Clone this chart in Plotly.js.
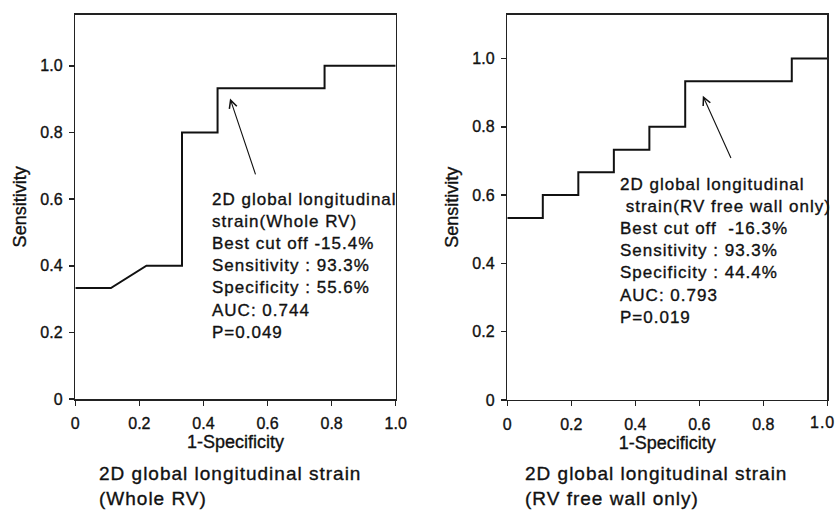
<!DOCTYPE html>
<html>
<head>
<meta charset="utf-8">
<script src="https://cdn.plot.ly/plotly-3.0.1.min.js"></script>
<style>
  html, body { margin: 0; padding: 0; background: #fff; }
  #chart { width: 836px; height: 513px; }
  .annotation-text { letter-spacing: 1px; }
  #chart text { stroke: #111; stroke-width: 0.35px; }
</style>
</head>
<body>
<div id="chart"></div>
<script>
// ROC curve, 2D global longitudinal strain (Whole RV)
const fprWhole = [0, 0.111, 0.222, 0.333, 0.333, 0.444, 0.444, 0.778, 0.778, 1.0];
const tprWhole = [0.333, 0.333, 0.4, 0.4, 0.8, 0.8, 0.933, 0.933, 1.0, 1.0];
// ROC curve, 2D global longitudinal strain (RV free wall only)
const fprFree = [0, 0.111, 0.111, 0.222, 0.222, 0.333, 0.333, 0.444, 0.444, 0.556, 0.556, 0.889, 0.889, 1.0];
const tprFree = [0.533, 0.533, 0.6, 0.6, 0.667, 0.667, 0.733, 0.733, 0.8, 0.8, 0.933, 0.933, 1.0, 1.0];

const tickVals = [0, 0.2, 0.4, 0.6, 0.8, 1.0];
const tickText = ['0', '0.2', '0.4', '0.6', '0.8', '1.0'];

const textWhole = [
  '2D global longitudinal',
  'strain(Whole RV)',
  'Best cut off -15.4%',
  'Sensitivity : 93.3%',
  'Specificity : 55.6%',
  'AUC: 0.744',
  'P=0.049'
];
const textFree = [
  '2D global longitudinal',
  '\u00a0strain(RV free wall only)',
  'Best cut off \u00a0-16.3%',
  'Sensitivity : 93.3%',
  'Specificity : 44.4%',
  'AUC: 0.793',
  'P=0.019'
];
const captionWhole = ['2D global longitudinal strain', '(Whole RV)'];
const captionFree = ['2D global longitudinal strain', '(RV free wall only)'];

// arrow tips and tails in data units [tipX, tipY, tailX, tailY]
const arrowWhole = [0.483, 0.902, 0.564, 0.670];
const arrowFree = [0.611, 0.891, 0.701, 0.704];

const FONT = 'Liberation Sans, Arial, sans-serif';
const INK = '#111';

const lineStyle = {color: '#111', width: 2};

const traces = [
  {x: fprWhole, y: tprWhole, xaxis: 'x', yaxis: 'y', mode: 'lines', line: lineStyle, hoverinfo: 'skip'},
  {x: fprFree, y: tprFree, xaxis: 'x2', yaxis: 'y2', mode: 'lines', line: lineStyle, hoverinfo: 'skip'}
];

// the right panel's last x label sits on the page edge; it is drawn right-aligned to stay whole
const lastIdx = tickText.length - 1;
const tickTextRight = tickText.map((t, i) => (i === lastIdx ? '' : t));

function xAx(domain, anchor, labels) {
  return {
    domain: domain, anchor: anchor, range: [0, 1],
    showline: true, mirror: true, linecolor: '#222', linewidth: 1.5,
    showgrid: false, zeroline: false,
    ticks: 'outside', ticklen: 5, tickwidth: 1.5, tickcolor: '#222',
    tickvals: tickVals, ticktext: labels,
    ticklabelstandoff: 4, ticklabeloverflow: 'allow',
    tickfont: {family: FONT, size: 16, color: INK},
    title: {text: '1-Specificity', font: {family: FONT, size: 18, color: INK}, standoff: 4},
    automargin: false, fixedrange: true
  };
}
function yAx(domain, anchor, top) {
  return {
    domain: domain, anchor: anchor, range: [0, top],
    showline: true, mirror: true, linecolor: '#222', linewidth: 1.5,
    showgrid: false, zeroline: false,
    ticks: 'outside', ticklen: 5, tickwidth: 1.5, tickcolor: '#222',
    tickvals: tickVals, ticktext: tickText,
    ticklabelstandoff: 3, ticklabeloverflow: 'allow',
    tickfont: {family: FONT, size: 16, color: INK},
    title: {text: 'Sensitivity', font: {family: FONT, size: 18, color: INK}, standoff: 9},
    automargin: false, fixedrange: true
  };
}

function arrowAnn(a, xr, yr) {
  return {
    xref: xr, yref: yr, axref: xr, ayref: yr,
    x: a[0], y: a[1], ax: a[2], ay: a[3],
    text: '', showarrow: true, arrowhead: 5, arrowsize: 1.4, arrowwidth: 1.1,
    arrowcolor: INK, standoff: 0, startstandoff: 0
  };
}

const annotations = [
  arrowAnn(arrowWhole, 'x', 'y'),
  arrowAnn(arrowFree, 'x2', 'y2'),
  {xref: 'x', yref: 'y', x: 0.420, y: 0.633, xanchor: 'left', yanchor: 'top', align: 'left',
   text: textWhole.join('<br>'), showarrow: false, font: {family: FONT, size: 17, color: INK}},
  {xref: 'x2', yref: 'y2', x: 0.347, y: 0.666, xanchor: 'left', yanchor: 'top', align: 'left',
   text: textFree.join('<br>'), showarrow: false, font: {family: FONT, size: 17, color: INK}},
  {xref: 'paper', yref: 'paper', x: 96.7 / 836, y: 0.101, xanchor: 'left', yanchor: 'top', align: 'left',
   text: captionWhole.join('<br>'), showarrow: false, font: {family: FONT, size: 19, color: INK}},
  {xref: 'paper', yref: 'paper', x: 522.7 / 836, y: 0.101, xanchor: 'left', yanchor: 'top', align: 'left',
   text: captionFree.join('<br>'), showarrow: false, font: {family: FONT, size: 19, color: INK}},
  {xref: 'paper', yref: 'y2', x: 1, y: 0, xanchor: 'right', yanchor: 'top', yshift: -13, align: 'right',
   text: tickText[lastIdx], showarrow: false, borderpad: 0, font: {family: FONT, size: 16, color: INK}}
];

const layout = {
  width: 836, height: 513,
  margin: {l: 0, r: 0, t: 0, b: 0},
  paper_bgcolor: '#fff', plot_bgcolor: '#fff',
  showlegend: false,
  xaxis: xAx([0.0901, 0.4733], 'y', tickText),
  yaxis: yAx([0.2222, 0.9713], 'x', 1.1535),
  xaxis2: xAx([0.6068, 0.9896], 'y2', tickTextRight),
  yaxis2: yAx([0.2203, 0.9713], 'x2', 1.128),
  annotations: annotations
};

Plotly.newPlot('chart', traces, layout, {staticPlot: true, displayModeBar: false});
</script>
</body>
</html>
